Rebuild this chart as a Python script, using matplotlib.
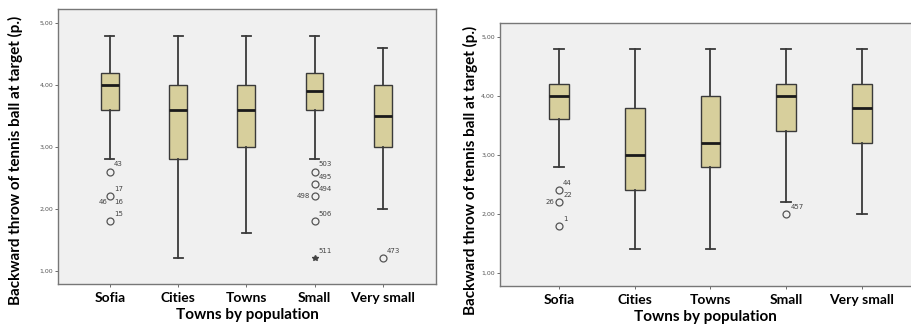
import matplotlib.pyplot as plt

categories = ["Sofia", "Cities", "Towns", "Small", "Very small"]

# left chart
left_whislo = [2.8, 1.2, 1.6, 2.8, 2.0]
left_q1 = [3.6, 2.8, 3.0, 3.6, 3.0]
left_med = [4.0, 3.6, 3.6, 3.9, 3.5]
left_q3 = [4.2, 4.0, 4.0, 4.2, 4.0]
left_whishi = [4.8, 4.8, 4.8, 4.8, 4.6]
left_outliers = [[2.6, 2.2, 1.8], [], [], [2.6, 2.4, 2.2, 1.8], [1.2]]
left_extremes = [[], [], [], [1.2], []]
# (category index, value, label, side)
left_labels = [(0, 2.6, "43", "r"), (0, 2.2, "17", "r"), (0, 2.2, "16", "rb"),
               (0, 2.2, "46", "lb"), (0, 1.8, "15", "r"),
               (3, 2.6, "503", "r"), (3, 2.4, "495", "r"), (3, 2.2, "494", "r"),
               (3, 2.2, "498", "l"), (3, 1.8, "506", "r"), (3, 1.2, "511", "r"),
               (4, 1.2, "473", "r")]

# right chart
right_whislo = [2.8, 1.4, 1.4, 2.2, 2.0]
right_q1 = [3.6, 2.4, 2.8, 3.4, 3.2]
right_med = [4.0, 3.0, 3.2, 4.0, 3.8]
right_q3 = [4.2, 3.8, 4.0, 4.2, 4.2]
right_whishi = [4.8, 4.8, 4.8, 4.8, 4.8]
right_outliers = [[2.4, 2.2, 1.8], [], [], [2.0], []]
right_extremes = [[], [], [], [], []]
right_labels = [(0, 2.4, "44", "r"), (0, 2.2, "22", "r"), (0, 2.2, "26", "l"),
                (0, 1.8, "1", "r"), (3, 2.0, "457", "r")]

yticks = [1, 2, 3, 4, 5]
ytick_labels = ["1,00", "2,00", "3,00", "4,00", "5,00"]

box_color = "#d7cf9c"
edge = "#3a3a3a"
bg = "#f0f0f0"
font = "Lato"


def draw(ax, whislo, q1, med, q3, whishi, outliers, extremes, labels, xlim):
    stats = []
    for i in range(len(categories)):
        stats.append(dict(whislo=whislo[i], q1=q1[i], med=med[i], q3=q3[i],
                          whishi=whishi[i], fliers=outliers[i], label=categories[i]))
    pos = list(range(1, len(categories) + 1))
    ax.bxp(stats, positions=pos, widths=0.26, capwidths=0.13, patch_artist=True,
           boxprops=dict(facecolor=box_color, edgecolor=edge, linewidth=1.0),
           medianprops=dict(color="#1a1a1a", linewidth=2.0),
           whiskerprops=dict(color=edge, linewidth=1.3),
           capprops=dict(color=edge, linewidth=1.3),
           flierprops=dict(marker="o", markersize=5, markerfacecolor="none",
                           markeredgecolor="#555555", markeredgewidth=0.9))
    for i, vals in enumerate(extremes):
        for v in vals:
            ax.plot(pos[i], v, marker="*", color="#444444", markersize=4)
    for i, v, txt, side in labels:
        if side == "r":
            off, ha, va = (3, 3), "left", "bottom"
        elif side == "rb":
            off, ha, va = (3, -2), "left", "top"
        elif side == "lb":
            off, ha, va = (-2, -2), "right", "top"
        else:
            off, ha, va = (-3, 0), "right", "center"
        ax.annotate(txt, (pos[i], v), xytext=off, textcoords="offset points",
                    ha=ha, va=va, fontsize=5, color="#444444")
    ax.set_facecolor(bg)
    ax.set_xlim(*xlim)
    ax.set_ylim(0.78, 5.23)
    ax.set_yticks(yticks)
    ax.set_yticklabels(ytick_labels, fontsize=4.5, color="#555555")
    ax.set_xticks(pos)
    ax.set_xticklabels(categories, fontsize=10, fontweight="bold", family=font)
    ax.tick_params(axis="y", length=2.5, width=0.6, pad=1, color="#555555")
    ax.tick_params(axis="x", length=2.5, width=0.6, pad=3, color="#555555")
    ax.set_xlabel("Towns by population", fontsize=11, fontweight="bold",
                  family=font, labelpad=3)
    ax.set_ylabel("Backward throw of tennis ball at target (p.)", fontsize=11,
                  fontweight="bold", family=font)
    for s in ax.spines.values():
        s.set_color("#777777")
        s.set_linewidth(1.0)


fig = plt.figure(figsize=(9.12, 3.30), dpi=100)
ax1 = fig.add_axes([0.0636, 0.139, 0.4145, 0.834])
ax2 = fig.add_axes([0.548, 0.133, 0.452, 0.797])

draw(ax1, left_whislo, left_q1, left_med, left_q3, left_whishi,
     left_outliers, left_extremes, left_labels, (0.24, 5.78))
draw(ax2, right_whislo, right_q1, right_med, right_q3, right_whishi,
     right_outliers, right_extremes, right_labels, (0.22, 5.66))
ax2.spines["right"].set_visible(False)

ax1.yaxis.set_label_coords(-0.093, 0.45)
ax2.yaxis.set_label_coords(-0.054, 0.44)

fig.savefig("out.png", dpi=100)
